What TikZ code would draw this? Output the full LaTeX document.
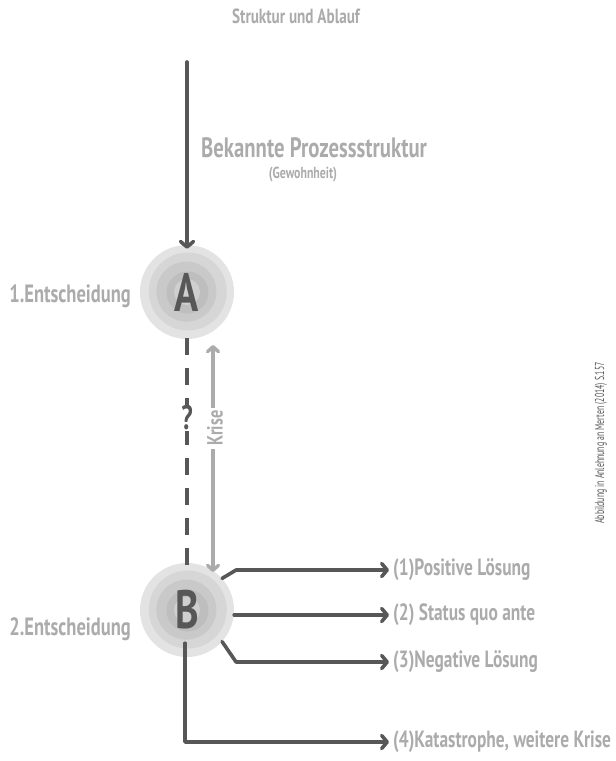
\documentclass[tikz,border=0pt]{standalone}
\usepackage{fontspec}
\setmainfont{PT Sans}
\newfontfamily\hand[FakeStretch=0.74]{PT Sans}
\newfontfamily\note[FakeStretch=0.6]{PT Sans}
\usetikzlibrary{arrows.meta}
\definecolor{ink}{HTML}{575757}
\definecolor{soft}{HTML}{ABABAB}
\definecolor{ringA}{HTML}{E3E3E3}
\definecolor{ringB}{HTML}{D6D6D6}
\definecolor{ringC}{HTML}{C9C9C9}
\definecolor{ringD}{HTML}{BEBEBE}
\definecolor{ringE}{HTML}{CFCFCF}
\tikzset{
  darr/.style={draw=ink, line width=3.6pt, line cap=round, line join=round,
    -{Straight Barb[length=5.5pt,width=13pt,line cap=round,line join=round]}},
  larr/.style={draw=soft, line width=3.4pt, line cap=round, line join=round,
    {Straight Barb[length=5pt,width=11pt,line cap=round,line join=round]}-{Straight Barb[length=5pt,width=11pt,line cap=round,line join=round]}},
  dline/.style={draw=ink, line width=3.6pt, dash pattern=on 17pt off 13pt},
  decision/.style={circle, minimum size=94pt, inner sep=0pt, fill=ringA,
    text=ink, font=\hand\bfseries\fontsize{54}{54}\selectfont,
    path picture={
      \fill[ringB] ([shift={(0.8pt,0.5pt)}]path picture bounding box.center) circle (39pt);
      \fill[ringC] ([shift={(-0.6pt,0.4pt)}]path picture bounding box.center) circle (30pt);
      \fill[ringD] ([shift={(0.5pt,-0.5pt)}]path picture bounding box.center) circle (21pt);
      \fill[ringE] (path picture bounding box.center) circle (13pt);
    }},
  lbl/.style={text=soft, font=\hand\bfseries\fontsize{23.5}{23.5}\selectfont, inner sep=2pt},
  outcome/.style={lbl, anchor=west, inner sep=4pt},
}
\begin{document}
\begin{tikzpicture}[x=1pt,y=-1pt]
\useasboundingbox (0,0) rectangle (616,761);

% heading
\node[text=soft, font=\hand\bfseries\fontsize{20.5}{20.5}\selectfont] (title) at (296,16) {Struktur und Ablauf};

% known process and first decision
\coordinate (start) at (187,62);
\node[decision] (A) at (187,292) {A};
\draw[darr] (start) -- ([yshift=-4pt]A.north);
\node[lbl, anchor=west, inner sep=0pt, font=\hand\bfseries\fontsize{28}{28}\selectfont] (known) at (201,148) {Bekannte Prozessstruktur};
\node[lbl, inner sep=0pt, font=\hand\bfseries\fontsize{16}{16}\selectfont] (habit) at (303,175) {(Gewohnheit)};
\node[lbl, anchor=east, font=\hand\bfseries\fontsize{25}{25}\selectfont] (d1) at (133,296) {1.Entscheidung};

% second decision
\node[decision] (B) at (187,610) {B};
\node[lbl, anchor=east, font=\hand\bfseries\fontsize{25}{25}\selectfont] (d2) at (133,629) {2.Entscheidung};

% crisis between the two decisions
\draw[dline] ([yshift=1pt]A.south) -- ([yshift=-8pt]B.north);
\node[fill=white, text=ink, font=\hand\bfseries\fontsize{34}{34}\selectfont, inner sep=1pt] (q) at (187,418) {?};
\coordinate (kTop) at (213,345);
\coordinate (kBot) at (213,572);
\draw[larr] (kTop) -- (kBot);
\node[fill=white, rotate=90, text=soft, font=\hand\bfseries\fontsize{22}{22}\selectfont, inner sep=3pt] (krise) at (215,428) {Krise};

% outcomes
\node[outcome] (o1) at (389,570) {(1)Positive Lösung};
\node[outcome] (o2) at (389,615) {(2) Status quo ante};
\node[outcome] (o3) at (389,662) {(3)Negative Lösung};
\node[outcome] (o4) at (389,742) {(4)Katastrophe, weitere Krise};

\draw[darr] (B.42) -- ([xshift=14pt]B.42 |- o1.west) -- (o1.west);
\draw[darr] (B.east |- o2.west) -- (o2.west);
\draw[darr] (B.-42) -- ([xshift=14pt]B.-42 |- o3.west) -- (o3.west);
\draw[darr] ([xshift=-2pt,yshift=14pt]B.south) -- ([xshift=-2pt]B.south |- o4.west) -- (o4.west);

% source note
\node[rotate=90, text=ink, font=\note\fontsize{13}{13}\selectfont] (src) at (601,443) {Abbildung in Anlehnung an Merten (2014) S.157};
\end{tikzpicture}
\end{document}
